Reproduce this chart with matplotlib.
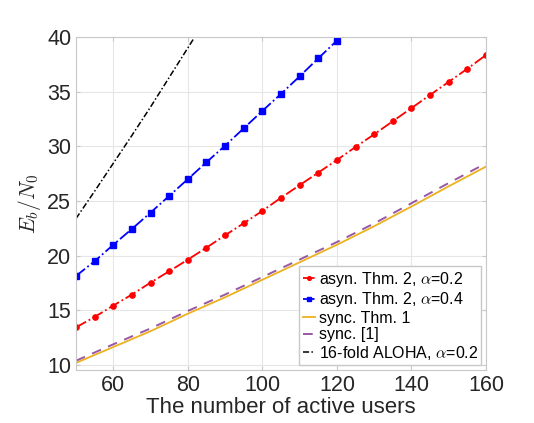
import numpy as np
import matplotlib
matplotlib.use("Agg")
import matplotlib.pyplot as plt

plt.rcParams['font.family'] = ['Liberation Sans', 'DejaVu Sans']
plt.rcParams['mathtext.fontset'] = 'cm'

users_marked = [50, 55, 60, 65, 70, 75, 80, 85, 90, 95, 100, 105, 110, 115, 120,
                125, 130, 135, 140, 145, 150, 155, 160]
asyn_a02 = [13.45, 14.4, 15.44, 16.45, 17.54, 18.58, 19.64, 20.74, 21.87, 22.97, 24.1,
            25.3, 26.45, 27.6, 28.75, 29.95, 31.1, 32.3, 33.5, 34.7, 35.9, 37.1, 38.35]
users_a04 = [50, 55, 60, 65, 70, 75, 80, 85, 90, 95, 100, 105, 110, 115, 120]
asyn_a04 = [18.15, 19.5, 21.0, 22.45, 23.94, 25.47, 27.0, 28.55, 30.06, 31.65, 33.24,
            34.8, 36.4, 38.05, 39.67]
users_sync = [50, 60, 70, 80, 90, 100, 110, 120, 130, 140, 150, 160]
sync_thm1 = [10.2, 11.65, 13.1, 14.7, 16.2, 17.8, 19.4, 21.0, 22.7, 24.5, 26.35, 28.15]
sync_ref1 = [10.4, 11.9, 13.35, 14.95, 16.45, 18.05, 19.65, 21.25, 22.95, 24.8, 26.65, 28.45]
users_aloha = [50, 55, 60, 65, 70, 75, 80, 85]
aloha = [23.4, 25.9, 28.45, 31.0, 33.6, 36.3, 39.0, 41.7]

labels = ['asyn. Thm. 2, $\\alpha$=0.2', 'asyn. Thm. 2, $\\alpha$=0.4',
          'sync. Thm. 1', 'sync. [1]', '16-fold ALOHA, $\\alpha$=0.2']

fig = plt.figure(figsize=(5.34, 4.23), dpi=100)
ax = fig.add_axes([76/534, 1-370/423, (486-76)/534, (370-37)/423])

ax.plot(users_marked, asyn_a02, color='#ff0000', ls='-.', lw=1.3, marker='o', ms=3.8, label=labels[0])
ax.plot(users_a04, asyn_a04, color='#0000ff', ls='-.', lw=1.3, marker='s', ms=3.8, label=labels[1])
ax.plot(users_sync, sync_thm1, color='#edb120', ls='-', lw=1.3, label=labels[2])
ax.plot(users_sync, sync_ref1, color='#7e2f8e', ls=(0, (5, 4)), lw=1.4, alpha=0.8, label=labels[3])
ax.plot(users_aloha, aloha, color='black', ls=(0, (4, 1.5, 1, 1.5)), lw=1.1, label=labels[4])

ax.set_xlim(50, 160)
ax.set_ylim(9.55, 40)
ax.set_xticks([60, 80, 100, 120, 140, 160])
ax.set_yticks([10, 15, 20, 25, 30, 35, 40])
ax.grid(True, color='#e6e6e6', lw=0.8)
ax.set_axisbelow(True)
for s in ax.spines.values():
    s.set_color('#c8c8c8')
ax.tick_params(direction='in', length=3, colors='#c8c8c8', labelcolor='#262626',
               labelsize=15.5, top=True, right=True)
ax.set_xlabel('The number of active users', fontsize=16, color='#262626', labelpad=1)
ax.set_ylabel('$E_b/N_0$', fontsize=15.5, color='#262626', labelpad=3)

leg = ax.legend(loc='lower right', fontsize=11.5, handlelength=0.8, handletextpad=0.2,
                borderpad=0.2, labelspacing=0.1, borderaxespad=0.3, fancybox=False,
                framealpha=1, edgecolor='#c8c8c8', markerscale=0.7)
fig.savefig('out.png', dpi=100)
